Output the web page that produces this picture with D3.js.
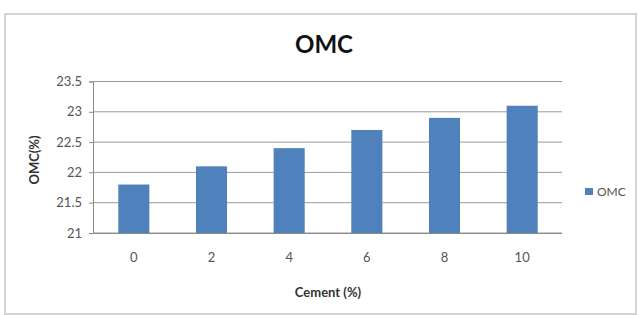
<!DOCTYPE html>
<html><head><meta charset="utf-8">
<script src="https://cdn.jsdelivr.net/npm/d3@7"></script>
<style>body{margin:0;background:#fff}svg{display:block}text{font-family:Lato,"Open Sans",sans-serif}</style>
</head><body><svg id="c" width="638" height="315"></svg>
<script>
const categories = ["0","2","4","6","8","10"];
const omcValues = [21.8, 22.1, 22.4, 22.7, 22.9, 23.1];
const yTicks = [21, 21.5, 22, 22.5, 23, 23.5];
const seriesName = "OMC";

const svg = d3.select("#c");
svg.append("rect").attr("x",5).attr("y",14).attr("width",631).attr("height",300)
  .attr("fill","#fff").attr("stroke","#d4d4d4").attr("stroke-width",2);

const x = d3.scaleBand().domain(categories).range([95,561]).paddingInner(0.6).paddingOuter(0.3);
const y = d3.scaleLinear().domain([21,23.5]).range([233,81.5]);

// gridlines
svg.append("g").selectAll("line").data(yTicks).join("line")
  .attr("x1",93).attr("x2",562).attr("y1",d=>y(d)).attr("y2",d=>y(d))
  .attr("stroke","#9a9a9a").attr("stroke-width",1);

// bars
svg.append("g").selectAll("rect").data(omcValues).join("rect")
  .attr("x",(d,i)=>x(categories[i])).attr("width",x.bandwidth())
  .attr("y",d=>y(d)).attr("height",d=>y(21)-y(d)).attr("fill","#4F81BD");

// y axis
const ya = svg.append("g").attr("transform","translate(93,0)")
  .call(d3.axisLeft(y).tickValues(yTicks).tickFormat(d=>String(d)).tickSize(4).tickPadding(7));
ya.select(".domain").attr("stroke","#8a8a8a");
ya.selectAll(".tick line").attr("stroke","#8a8a8a");
ya.selectAll("text").attr("font-size",13).attr("fill","#555");

// x axis
const xa = svg.append("g").attr("transform","translate(0,233)")
  .call(d3.axisBottom(x).tickSize(0).tickPadding(20));
xa.select(".domain").attr("stroke","#8a8a8a").attr("d","M93,0.5H562");
xa.selectAll("text").attr("font-size",13).attr("fill","#555");

svg.append("text").attr("x",324).attr("y",53).attr("text-anchor","middle")
  .attr("font-size",24).attr("font-weight","bold").attr("fill","#111").text("OMC");
svg.append("text").attr("x",328).attr("y",297).attr("text-anchor","middle")
  .attr("font-size",13).attr("font-weight","bold").attr("fill","#333").text("Cement (%)");
svg.append("text").attr("transform","translate(39,160) rotate(-90)").attr("text-anchor","middle")
  .attr("font-size",13).attr("font-weight","bold").attr("fill","#333").text("OMC(%)");

// legend
svg.append("rect").attr("x",585).attr("y",188).attr("width",8).attr("height",7).attr("fill","#4F81BD");
svg.append("text").attr("x",597).attr("y",196).attr("font-size",12).attr("fill","#555").text(seriesName);
</script></body></html>
